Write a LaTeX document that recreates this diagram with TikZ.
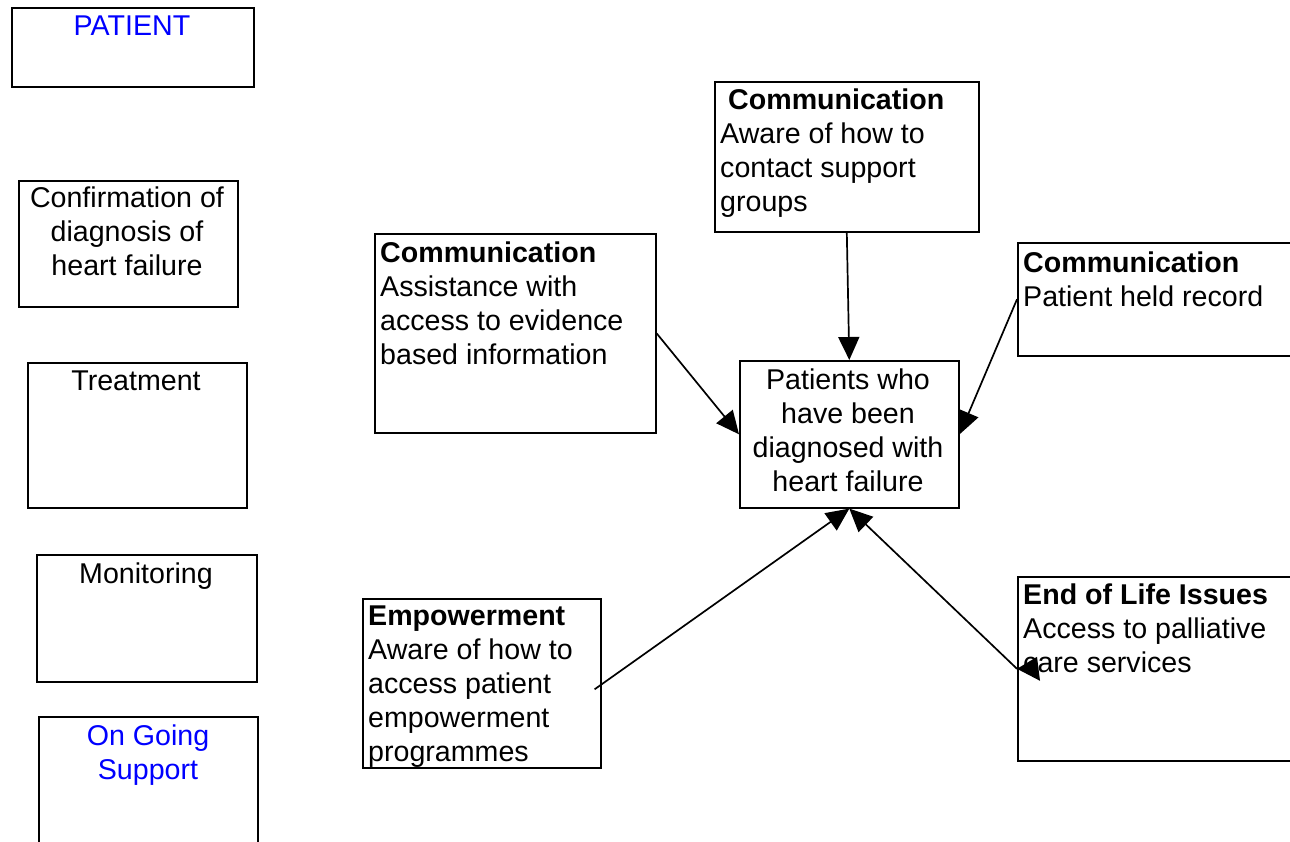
\documentclass[tikz,border=0pt]{standalone}
\usepackage{fontspec}
\setmainfont{Liberation Sans}
\usetikzlibrary{arrows.meta,calc}
\definecolor{headblue}{RGB}{0,0,255}
\tikzset{
  box/.style={draw, line width=1.6pt, inner sep=0pt, anchor=north west},
  txt/.style={inner sep=0pt, font=\fontsize{28.6}{34}\selectfont},
  lt/.style={txt, anchor=base west},
  ct/.style={txt, anchor=base},
  link/.style={line width=1.7pt, -{Triangle[length=23pt,width=21pt]}},
}
\newcommand{\Lcol}[1]{\begin{tabular}[t]{@{}l@{}}#1\end{tabular}}
\newcommand{\Ccol}[1]{\begin{tabular}[t]{@{}c@{}}#1\end{tabular}}
\begin{document}
\begin{tikzpicture}[x=1pt,y=-1pt]
  \useasboundingbox (0,0) rectangle (1290,841);
  \clip (0,0) rectangle (1290,841);

  % stage column on the left
  \node[box, minimum width=242pt, minimum height=79pt]  (pat)   at (11,7)   {};
  \node[box, minimum width=219pt, minimum height=126pt] (conf)  at (18,180) {};
  \node[box, minimum width=219pt, minimum height=145pt] (treat) at (27,362) {};
  \node[box, minimum width=220pt, minimum height=127pt] (mon)   at (36,554) {};
  \node[box, minimum width=219pt, minimum height=160pt] (ongo)  at (38,716) {};

  \node[ct, text=headblue] (patT)   at (132,35)  {\Ccol{PATIENT}};
  \node[ct]                (confT)  at (127,207) {\Ccol{Confirmation of\\diagnosis of\\heart failure}};
  \node[ct]                (treatT) at (136,390) {\Ccol{Treatment}};
  \node[ct]                (monT)   at (146,583) {\Ccol{Monitoring}};
  \node[ct, text=headblue] (ongoT)  at (148,745) {\Ccol{On Going\\Support}};

  % central box and the boxes around it
  \node[box, minimum width=219pt, minimum height=147pt] (hf)  at (739,360)  {};
  \node[box, minimum width=281pt, minimum height=199pt] (c1)  at (374,233)  {};
  \node[box, minimum width=264pt, minimum height=150pt] (c2)  at (714,81)   {};
  \node[box, minimum width=300pt, minimum height=113pt] (c3)  at (1017,242) {};
  \node[box, minimum width=238pt, minimum height=169pt] (emp) at (362,598)  {};
  \node[box, minimum width=300pt, minimum height=184pt] (eol) at (1017,576) {};

  \node[ct] (hfT)  at (848,389)  {\Ccol{Patients who\\have been\\diagnosed with\\heart failure}};
  \node[lt] (c1T)  at (380,262)  {\Lcol{\textbf{Communication}\\Assistance with\\access to evidence\\based information}};
  \node[lt] (c2T)  at (720,109)  {\Lcol{\hspace{8pt}\textbf{Communication}\\Aware of how to\\contact support\\groups}};
  \node[lt] (c3T)  at (1023,272) {\Lcol{\textbf{Communication}\\Patient held record}};
  \node[lt] (empT) at (368,625)  {\Lcol{\textbf{Empowerment}\\Aware of how to\\access patient\\empowerment\\programmes}};
  \node[lt] (eolT) at (1023,604) {\Lcol{\textbf{End of Life Issues}\\Access to palliative\\care services}};

  % connectors into the central box
  \draw[link] (c1.east) -- (hf.west);
  \draw[link] (c2.south) -- (hf.north);
  \draw[link] (c3.west) -- (hf.east);
  \draw[link] ($(emp.east)+(-7,6)$) -- (hf.south);
  \draw[link] (eol.west) -- (hf.south);
  % loose arrowhead at the end-of-life box
  \fill (eol.west) -- ++(20,-12) -- ++(3,24) -- cycle;
\end{tikzpicture}
\end{document}
